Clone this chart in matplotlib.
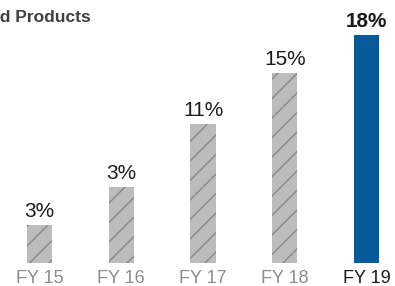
import matplotlib.pyplot as plt
import numpy as np

# hatch tile is one inch, so the dpi sets the stripe spacing
DPI = 117

def px(n):
    # pixel size -> points at this dpi
    return n * 72 / DPI

plt.rcParams['font.family'] = ['Liberation Sans', 'DejaVu Sans']
plt.rcParams['hatch.color'] = '#888888'
plt.rcParams['hatch.linewidth'] = px(1.4)

# data
years = ["FY 15", "FY 16", "FY 17", "FY 18", "FY 19"]
values = [3, 6, 11, 15, 18]          # bar heights
labels = ["3%", "3%", "11%", "15%", "18%"]  # printed labels
title = "Branded Products"

fig = plt.figure(figsize=(395 / DPI, 286 / DPI), dpi=DPI)
ax = fig.add_axes([0, 23 / 286, 1, 228 / 286])

x = np.arange(len(years))
colors = ['#bcbcbc'] * 4 + ['#065a9a']
bars = ax.bar(x, values, width=0.306, color=colors, linewidth=0)
for b in bars[:4]:
    b.set_hatch('//')

for i, (v, lab) in enumerate(zip(values, labels)):
    last = i == len(values) - 1
    ax.annotate(lab, (i, v), xytext=(0, px(4)), textcoords='offset points',
                ha='center', va='bottom', fontsize=px(20.8),
                fontweight='bold' if last else 'normal',
                color='#1a1a1a', annotation_clip=False)

ax.set_xlim(-39.5 / 81.75, (395 - 39.5) / 81.75)
ax.set_ylim(0, 18)
ax.set_xticks(x)
ax.set_xticklabels(years, fontsize=px(18))
for i, t in enumerate(ax.get_xticklabels()):
    t.set_color('#1a1a1a' if i == len(years) - 1 else '#8c8c8c')
ax.tick_params(axis='x', length=0, pad=px(7))
ax.set_yticks([])
for s in ax.spines.values():
    s.set_visible(False)

fig.text(91 / 395, 1 - 18 / 286, title, ha='right', va='center',
         fontsize=px(17.4), fontweight='bold', color='#3f3f3f')

fig.savefig('out.png', dpi=DPI)
